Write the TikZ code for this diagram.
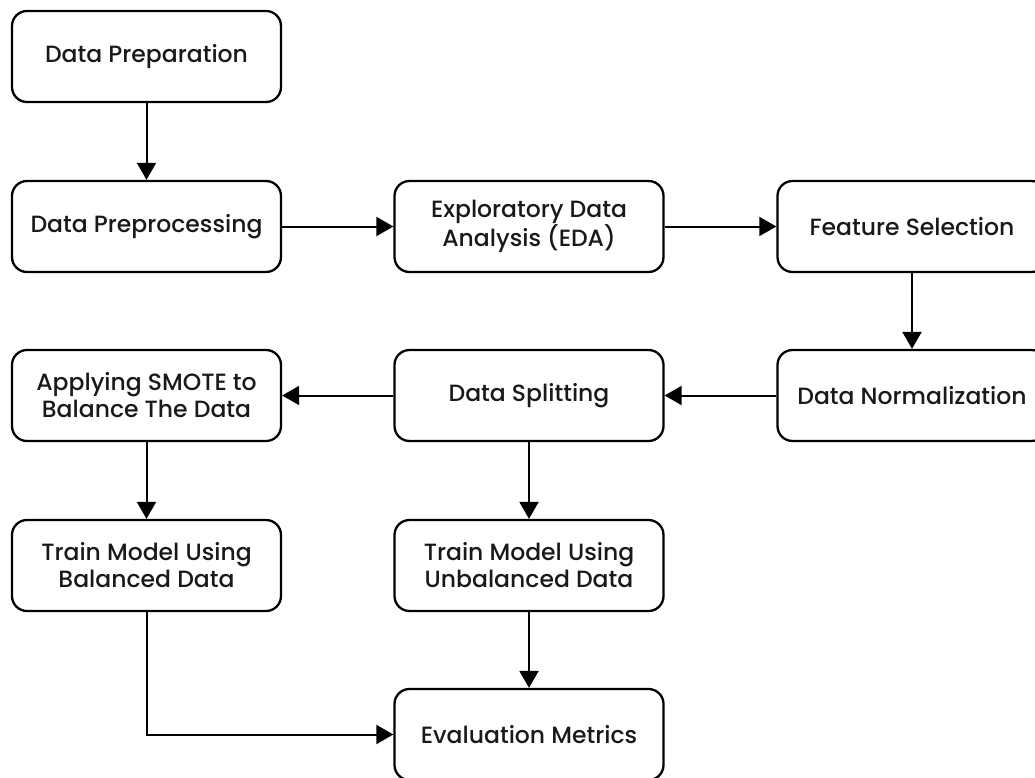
\documentclass[tikz,border=0pt]{standalone}
\usepackage{fontspec}
\setmainfont{Poppins}[UprightFont=* Medium]
\usetikzlibrary{arrows,arrows.meta,positioning}

\begin{document}
\begin{tikzpicture}[
x=1pt, y=-1pt,
font=\fontsize{23.5}{27}\selectfont,
stage/.style={draw, line width=2.3pt, rounded corners=15pt, minimum width=269pt, minimum height=91pt, align=center, text=black!90},
flow/.style={line width=2pt, -{Triangle[length=17pt,width=19pt]}}
]
    \useasboundingbox (0,0) rectangle (1035,778);

    % Stages
    \node[stage] (prep)    at (146.5, 56.5)  {Data Preparation};
    \node[stage] (preproc) at (146.5, 226.5) {Data Preprocessing};
    \node[stage] (eda)     at (529, 226.5)   {Exploratory Data\\Analysis (EDA)};
    \node[stage] (feat)    at (912, 226.5)   {Feature Selection};
    \node[stage] (norm)    at (912, 395.5)   {Data Normalization};
    \node[stage] (split)   at (529, 395.5)   {Data Splitting};
    \node[stage] (smote)   at (146.5, 395.5) {Applying SMOTE to\\Balance The Data};
    \node[stage] (bal)     at (146.5, 565.5) {Train Model Using\\Balanced Data};
    \node[stage] (unbal)   at (529, 565.5)   {Train Model Using\\Unbalanced Data};
    \node[stage] (eval)    at (529, 734.5)   {Evaluation Metrics};

    % Connectors
    \draw[flow] (prep) -- (preproc);
    \draw[flow] (preproc) -- (eda);
    \draw[flow] (eda) -- (feat);
    \draw[flow] (feat) -- (norm);
    \draw[flow] (norm) -- (split);
    \draw[flow] (split) -- (smote);
    \draw[flow] (smote) -- (bal);
    \draw[flow] (split) -- (unbal);
    \draw[flow] (unbal) -- (eval);
    \draw[flow] (bal) |- (eval);

\end{tikzpicture}
\end{document}
